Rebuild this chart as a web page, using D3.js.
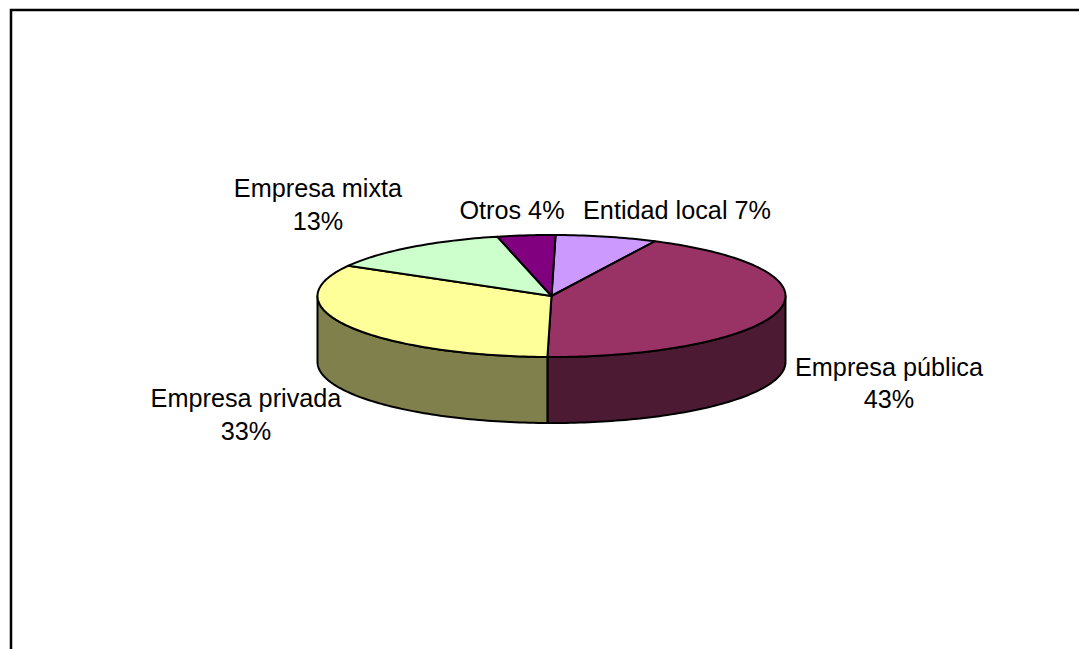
<!DOCTYPE html>
<html>
<head>
<meta charset="utf-8">
<script src="https://cdn.jsdelivr.net/npm/d3@7"></script>
<style>
  body { margin: 0; background: #fff; }
  svg { display: block; }
  text { font-family: "Liberation Sans", Arial, sans-serif; fill: #000; }
</style>
</head>
<body>
<div id="chart"></div>
<script>
// Data
const categories = ["Entidad local", "Empresa pública", "Empresa privada", "Empresa mixta", "Otros"];
const values = [7, 43, 33, 13, 4];
const topColors = ["#CC99FF", "#993366", "#FFFF99", "#CCFFCC", "#800080"];
const sideColors = ["#66507F", "#4C1A33", "#80804C", "#668066", "#400040"];
// label layout: [centre x, first baseline, gap to second line (0 = one line)]
const labelSpots = [[677, 219, 0], [889, 376, 32], [246, 407, 33], [318, 197, 33], [512, 219, 0]];

const W = 1079, H = 649;
const cx = 551.5, cy = 296, rx = 234, ry = 61, depth = 66;
const startOffset = 1 * Math.PI / 180;

const svg = d3.select("#chart")
    .append("svg")
    .attr("width", W)
    .attr("height", H);

// Chart frame (only top and left edges fall inside the window)
svg.append("rect")
    .attr("x", 11)
    .attr("y", 10)
    .attr("width", 1400)
    .attr("height", 1000)
    .attr("fill", "none")
    .attr("stroke", "#000")
    .attr("stroke-width", 2.5);

const pie = d3.pie()
    .sort(null)
    .value(d => d)
    .startAngle(startOffset)
    .endAngle(startOffset + 2 * Math.PI);

const arcs = pie(values);

// point on the ellipse for an angle measured clockwise from 12 o'clock
const px = a => cx + rx * Math.sin(a);
const py = (a, dy = 0) => cy - ry * Math.cos(a) + dy;

function ellipseArc(p, a0, a1, dy, mode) {
    const n = Math.max(2, Math.ceil(Math.abs(a1 - a0) / 0.02));
    for (let i = 0; i <= n; i++) {
        const a = a0 + (a1 - a0) * i / n;
        if (i === 0 && mode === "move") p.moveTo(px(a), py(a, dy));
        else p.lineTo(px(a), py(a, dy));
    }
}

function topPath(d) {
    const p = d3.path();
    p.moveTo(cx, cy);
    ellipseArc(p, d.startAngle, d.endAngle, 0, "line");
    p.closePath();
    return p.toString();
}

function sidePath(d) {
    // only the front half (between 90° and 270°) shows its wall
    const a0 = Math.max(d.startAngle, Math.PI / 2);
    const a1 = Math.min(d.endAngle, 3 * Math.PI / 2);
    if (a1 <= a0) return null;
    const p = d3.path();
    ellipseArc(p, a0, a1, 0, "move");
    ellipseArc(p, a1, a0, depth, "line");
    p.closePath();
    return p.toString();
}

const g = svg.append("g");

g.selectAll(".side")
    .data(arcs.filter(d => sidePath(d)))
    .join("path")
    .attr("class", "side")
    .attr("d", sidePath)
    .attr("fill", d => sideColors[d.index])
    .attr("stroke", "#000")
    .attr("stroke-width", 2)
    .attr("stroke-linejoin", "round");

g.selectAll(".top")
    .data(arcs)
    .join("path")
    .attr("class", "top")
    .attr("d", topPath)
    .attr("fill", d => topColors[d.index])
    .attr("stroke", "#000")
    .attr("stroke-width", 2)
    .attr("stroke-linejoin", "round");

// Labels
const fmt = d3.format(".0%");
const total = d3.sum(values);

const labels = svg.selectAll(".label")
    .data(arcs)
    .join("text")
    .attr("class", "label")
    .attr("text-anchor", "middle")
    .style("font-size", "25px")
    .attr("transform", d => {
        const s = labelSpots[d.index];
        return `translate(${s[0]}, ${s[1]}) scale(1.01, 1)`;
    });

labels.each(function (d) {
    const t = d3.select(this);
    const pct = fmt(values[d.index] / total);
    const gap = labelSpots[d.index][2];
    if (gap) {
        t.append("tspan").attr("x", 0).attr("y", 0).text(categories[d.index]);
        t.append("tspan").attr("x", 0).attr("y", gap).text(pct);
    } else {
        t.append("tspan").attr("x", 0).attr("y", 0).text(`${categories[d.index]} ${pct}`);
    }
});
</script>
</body>
</html>
